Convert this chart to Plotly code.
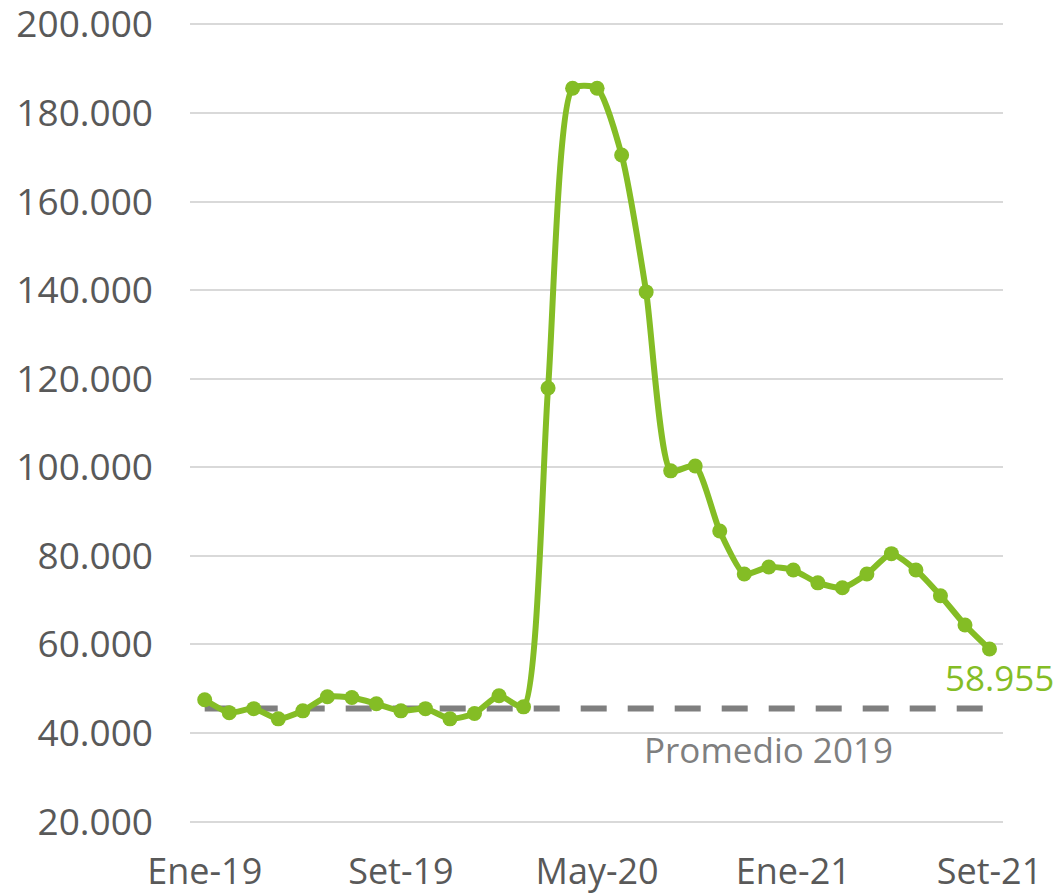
import plotly.graph_objects as go

# meses Ene-19 .. Set-21
meses = ["Ene-19", "Feb-19", "Mar-19", "Abr-19", "May-19", "Jun-19", "Jul-19", "Ago-19",
         "Set-19", "Oct-19", "Nov-19", "Dic-19", "Ene-20", "Feb-20", "Mar-20", "Abr-20",
         "May-20", "Jun-20", "Jul-20", "Ago-20", "Set-20", "Oct-20", "Nov-20", "Dic-20",
         "Ene-21", "Feb-21", "Mar-21", "Abr-21", "May-21", "Jun-21", "Jul-21", "Ago-21",
         "Set-21"]
valores = [47500, 44600, 45500, 43200, 45000, 48200, 48000, 46600,
           45000, 45500, 43200, 44400, 48400, 45900, 117900, 185600,
           185600, 170500, 139600, 99200, 100300, 85600, 75900, 77500,
           76800, 73900, 72800, 75900, 80500, 76800, 71000, 64400,
           58955]
promedio_2019 = sum(valores[:12]) / 12

tick_idx = [0, 8, 16, 24, 32]
tick_txt = [meses[i] for i in tick_idx]
y_ticks = list(range(20000, 200001, 20000))
y_txt = [f"{v:,}".replace(",", ".") for v in y_ticks]

x = list(range(len(meses)))
verde = "#84bd25"
gris = "#7f7f7f"

fig = go.Figure()
fig.add_trace(go.Scatter(
    x=x, y=[promedio_2019] * len(x), mode="lines",
    line=dict(color=gris, width=6, dash="26px,21px"),
    hoverinfo="skip", showlegend=False))
fig.add_trace(go.Scatter(
    x=x, y=valores, mode="lines+markers",
    line=dict(color=verde, width=6, shape="spline", smoothing=0.6),
    marker=dict(color=verde, size=15),
    customdata=meses, hovertemplate="%{customdata}: %{y:,.0f}<extra></extra>",
    showlegend=False))

fig.add_annotation(x=x[-1], y=valores[-1], text="58.955", showarrow=False,
                   xshift=10, yshift=-28, font=dict(color=verde, size=35))
fig.add_annotation(x=23, y=promedio_2019, text="Promedio 2019", showarrow=False,
                   yshift=-41, font=dict(color=gris, size=35))

fig.update_layout(
    width=1056, height=894,
    margin=dict(l=190, r=53, t=20, b=68),
    plot_bgcolor="white", paper_bgcolor="white",
    font=dict(family="Open Sans", color="#595959", size=37),
)
fig.update_xaxes(range=[-0.6, 32.55], tickmode="array", tickvals=tick_idx,
                 ticktext=tick_txt, showgrid=False, zeroline=False,
                 showline=False, ticklabelstandoff=21, automargin=False,
                 ticklabeloverflow="allow", tickfont=dict(size=36))
fig.update_yaxes(range=[19000, 201000], tickmode="array", tickvals=y_ticks,
                 ticktext=y_txt, showgrid=True, gridcolor="#d9d9d9", gridwidth=2,
                 zeroline=False, showline=False, ticklabelstandoff=36,
                 automargin=False, ticklabeloverflow="allow")

# quitar el margen por defecto del body para que el gráfico ocupe toda la ventana
fig.write_html("out.html", config={"displayModeBar": False},
               post_script="document.body.style.margin='0';")
